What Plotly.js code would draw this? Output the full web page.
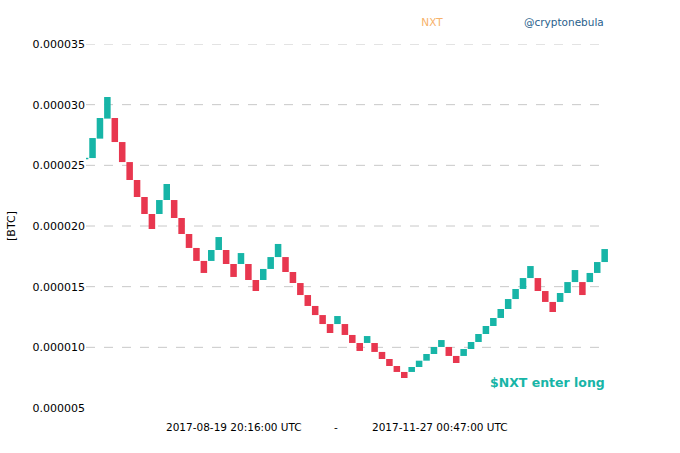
<!DOCTYPE html>
<html>
<head>
<meta charset="utf-8">
<script src="https://cdn.plot.ly/plotly-3.0.1.min.js"></script>
<style>html,body{margin:0;padding:0;background:#fff;}#chart{width:680px;height:453px;}</style>
</head>
<body>
<div id="chart"></div>
<script>
// Renko bricks (BTC)
var opens = [
  25.50e-6, 25.60e-6, 27.20e-6, 28.85e-6, 28.90e-6, 26.92e-6, 25.27e-6, 23.79e-6, 22.39e-6, 20.99e-6,
  20.99e-6, 22.14e-6, 22.14e-6, 20.66e-6, 19.34e-6, 18.19e-6, 17.12e-6, 17.12e-6, 18.02e-6, 18.02e-6,
  16.87e-6, 16.87e-6, 16.87e-6, 15.55e-6, 15.55e-6, 16.46e-6, 17.44e-6, 17.44e-6, 16.21e-6, 15.30e-6,
  14.31e-6, 13.41e-6, 12.66e-6, 11.92e-6, 11.92e-6, 11.92e-6, 11.02e-6, 10.36e-6, 10.36e-6, 10.36e-6,
  9.62e-6, 9.04e-6, 8.46e-6, 7.97e-6, 7.97e-6, 8.38e-6, 8.90e-6, 9.45e-6, 10.03e-6, 10.03e-6,
  9.29e-6, 9.29e-6, 9.86e-6, 10.44e-6, 11.10e-6, 11.76e-6, 12.42e-6, 13.16e-6, 13.98e-6, 14.81e-6,
  15.71e-6, 15.71e-6, 14.64e-6, 13.74e-6, 13.74e-6, 14.48e-6, 15.38e-6, 15.38e-6, 15.38e-6, 16.13e-6,
  17.03e-6
];
var closes = [
  25.62e-6, 27.25e-6, 28.90e-6, 30.63e-6, 26.92e-6, 25.27e-6, 23.79e-6, 22.39e-6, 20.99e-6, 19.75e-6,
  22.14e-6, 23.46e-6, 20.66e-6, 19.34e-6, 18.19e-6, 17.12e-6, 16.13e-6, 18.02e-6, 19.09e-6, 16.87e-6,
  15.80e-6, 17.77e-6, 15.55e-6, 14.64e-6, 16.46e-6, 17.44e-6, 18.52e-6, 16.21e-6, 15.30e-6, 14.31e-6,
  13.41e-6, 12.66e-6, 11.92e-6, 11.18e-6, 12.58e-6, 11.02e-6, 10.36e-6, 9.70e-6, 10.93e-6, 9.62e-6,
  9.04e-6, 8.46e-6, 7.97e-6, 7.47e-6, 8.38e-6, 8.90e-6, 9.45e-6, 10.03e-6, 10.60e-6, 9.29e-6,
  8.71e-6, 9.86e-6, 10.44e-6, 11.10e-6, 11.76e-6, 12.42e-6, 13.16e-6, 13.98e-6, 14.81e-6, 15.71e-6,
  16.70e-6, 14.64e-6, 13.74e-6, 12.91e-6, 14.48e-6, 15.38e-6, 16.37e-6, 14.31e-6, 16.13e-6, 17.03e-6,
  18.10e-6
];
var yTickVals = [0.000005, 0.000010, 0.000015, 0.000020, 0.000025, 0.000030, 0.000035];
var titleText = 'NXT';
var signature = '@cryptonebula';
var signalText = '$NXT enter long';
var startText = '2017-08-19 20:16:00 UTC';
var endText = '2017-11-27 00:47:00 UTC';
var yTitle = '[BTC]';

var UP = '#17b5a7', DOWN = '#e8374f';
var idx = opens.map(function(_, i){ return i; });
var bases = opens.map(function(o, i){ return Math.min(o, closes[i]); });
var heights = opens.map(function(o, i){ return Math.abs(closes[i] - o); });
var colors = opens.map(function(o, i){ return closes[i] >= o ? UP : DOWN; });

var trace = {
  type: 'bar', x: idx, y: heights, base: bases, width: 0.88,
  marker: {color: colors, line: {width: 0}}, hoverinfo: 'skip'
};

var gridShapes = yTickVals.slice(1).map(function(v){
  return {type: 'line', xref: 'paper', x0: 0, x1: 1, yref: 'y', y0: v, y1: v,
          line: {color: '#c8c8c8', width: 1, dash: 'dash'}, layer: 'below'};
});

var F = 'DejaVu Sans, sans-serif';
var layout = {
  width: 680, height: 453,
  margin: {l: 86, r: 72, t: 44, b: 45},
  paper_bgcolor: '#fff', plot_bgcolor: '#fff',
  showlegend: false,
  font: {family: F, size: 10.5, color: '#000'},
  title: {text: titleText, font: {family: F, size: 10.5, color: '#f7b26a'},
          x: 432/680, xanchor: 'center', xref: 'container', y: 1 - 22/453, yanchor: 'middle', yref: 'container'},
  xaxis: {range: [0.12, 70.45], showgrid: false, zeroline: false, showline: false,
          showticklabels: false, ticks: '', fixedrange: true},
  yaxis: {range: [0.000005, 0.000035], tickvals: yTickVals, tickformat: '.6f',
          showgrid: false, zeroline: false, showline: false, ticks: '',
          tickfont: {family: F, size: 11, color: '#000'},
          title: {text: yTitle, font: {family: F, size: 11, color: '#000'}, standoff: 14}},
  shapes: gridShapes,
  annotations: [
    {text: signature, xref: 'paper', yref: 'paper', x: (606-86)/522, y: (408-22)/364,
     xanchor: 'right', yanchor: 'middle', showarrow: false, font: {family: F, size: 10.5, color: '#2a5f8c'}},
    {text: '<b>' + signalText + '</b>', xref: 'paper', yref: 'paper', x: (607-86)/522, y: (408-382)/364,
     xanchor: 'right', yanchor: 'middle', showarrow: false, font: {family: F, size: 12.5, color: UP}},
    {text: startText, xref: 'paper', yref: 'paper', x: (234-86)/522, y: (408-427)/364,
     xanchor: 'center', yanchor: 'middle', showarrow: false, font: {family: F, size: 10.5, color: '#000'}},
    {text: '-', xref: 'paper', yref: 'paper', x: (336-86)/522, y: (408-427)/364,
     xanchor: 'center', yanchor: 'middle', showarrow: false, font: {family: F, size: 10.5, color: '#000'}},
    {text: endText, xref: 'paper', yref: 'paper', x: (440-86)/522, y: (408-427)/364,
     xanchor: 'center', yanchor: 'middle', showarrow: false, font: {family: F, size: 10.5, color: '#000'}}
  ]
};

Plotly.newPlot('chart', [trace], layout, {staticPlot: true, displayModeBar: false});
</script>
</body>
</html>
